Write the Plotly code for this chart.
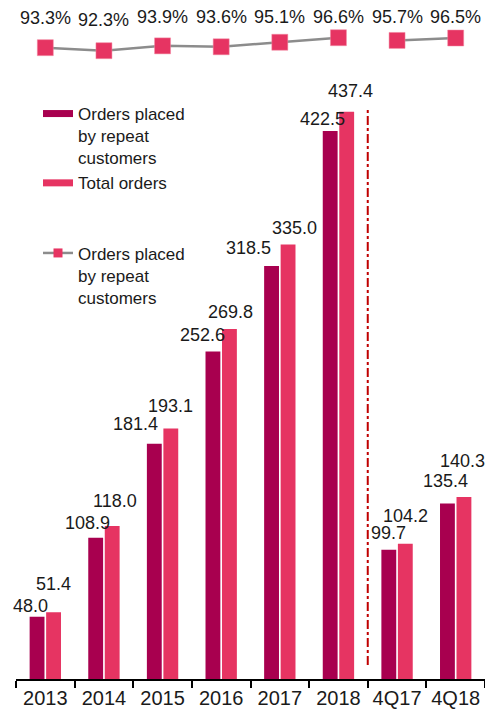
import plotly.graph_objects as go

categories = ["2013", "2014", "2015", "2016", "2017", "2018", "4Q17", "4Q18"]
repeat_orders = [48.0, 108.9, 181.4, 252.6, 318.5, 422.5, 99.7, 135.4]
total_orders = [51.4, 118.0, 193.1, 269.8, 335.0, 437.4, 104.2, 140.3]
repeat_share = [93.3, 92.3, 93.9, 93.6, 95.1, 96.6, 95.7, 96.5]

DARK = "#A8004F"
PINK = "#E63462"
FONT = "Arial, Liberation Sans, sans-serif"

# label placement tweaks (pixels) relative to each bar / label row
dark_dx = [-6.5, -8, -19, -10.5, -23, -8, 0, -2]
dark_dy = [11, 15, 20, 16, 18, 12, 17, 22]
pink_dx = [0, 3, 0, 1, 6, 4, 0, -1]
pink_dy = [28, 25, 23, 17, 17, 21, 28, 36]
pct_dy = [-1, -3, -0.5, -0.5, 0, 0, 0, 0]

PLOT_H = 671

fig = go.Figure()

fig.add_trace(go.Bar(x=categories, y=repeat_orders, marker=dict(color=DARK, line=dict(width=0)),
                     showlegend=False, name="Orders placed by repeat customers"))
fig.add_trace(go.Bar(x=categories, y=total_orders, marker=dict(color=PINK, line=dict(width=0)),
                     showlegend=False, name="Total orders"))

line_style = dict(color="#8C8C8C", width=2.5)

# legend entries
fig.add_trace(go.Scatter(x=[categories[0]], y=[None], mode="lines", line=dict(color=DARK, width=7),
                         name="Orders placed<br>by repeat<br>customers", legendgroup="a"))
fig.add_trace(go.Scatter(x=[categories[0]], y=[None], mode="lines", line=dict(color=PINK, width=7),
                         name="Total orders", legendgroup="a"))
fig.add_trace(go.Scatter(x=[categories[0]], y=[None], mode="lines+markers", line=line_style,
                         marker=dict(symbol="square", size=9, color=PINK),
                         name="Orders placed<br>by repeat<br>customers", legendgroup="b"))

n_annual = 6
marker_style = dict(symbol="square", size=16, color=PINK, line=dict(color="#F28AA3", width=0.5))
fig.add_trace(go.Scatter(x=categories[:n_annual], y=repeat_share[:n_annual], yaxis="y2",
                         mode="lines+markers", line=line_style, marker=marker_style,
                         showlegend=False, legendgroup="b"))
fig.add_trace(go.Scatter(x=categories[n_annual:], y=repeat_share[n_annual:], yaxis="y2",
                         mode="lines+markers", line=line_style, marker=marker_style,
                         showlegend=False, legendgroup="b"))

annotations = []
for i, c in enumerate(categories):
    annotations.append(dict(x=i, y=repeat_orders[i], xref="x", yref="y", text=f"{repeat_orders[i]:.1f}",
                            showarrow=False, xshift=-8.3 + dark_dx[i], yshift=dark_dy[i],
                            yanchor="middle", xanchor="center",
                            font=dict(family=FONT, size=18, color="#1a1a1a")))
    annotations.append(dict(x=i, y=total_orders[i], xref="x", yref="y", text=f"{total_orders[i]:.1f}",
                            showarrow=False, xshift=8.3 + pink_dx[i], yshift=pink_dy[i],
                            yanchor="middle", xanchor="center",
                            font=dict(family=FONT, size=18, color="#1a1a1a")))
    annotations.append(dict(x=i, y=1 - 8.5 / PLOT_H, xref="x", yref="paper", text=f"{repeat_share[i]:.1f}%",
                            showarrow=False, yanchor="middle", xanchor="center", yshift=pct_dy[i],
                            font=dict(family=FONT, size=18, color="#1a1a1a")))

fig.update_layout(
    width=485, height=705,
    margin=dict(l=8, r=8, t=0, b=34),
    paper_bgcolor="white", plot_bgcolor="white",
    barmode="group", bargap=0.437, bargroupgap=0.1,
    font=dict(family=FONT, color="#1a1a1a"),
    xaxis=dict(type="category", categoryorder="array", categoryarray=categories,
               range=[-0.5, len(categories) - 0.5], showline=True, linecolor="black", linewidth=1.5,
               ticks="outside", ticklen=7, tickwidth=1.5, tickcolor="black", tickangle=0,
               automargin=False,
               tickson="boundaries", showgrid=False, tickfont=dict(size=20, family=FONT, color="#1a1a1a")),
    yaxis=dict(range=[0, PLOT_H / 1.297], visible=False, showgrid=False),
    yaxis2=dict(range=[-115.75, 106.44], overlaying="y", visible=False, showgrid=False),
    legend=dict(x=22 / 469, y=1 - 88 / PLOT_H, xanchor="left", yanchor="top",
                font=dict(family=FONT, size=17, color="#1a1a1a"),
                traceorder="grouped", tracegroupgap=45, valign="top",
                bgcolor="rgba(0,0,0,0)"),
    annotations=annotations,
    shapes=[dict(type="line", xref="x", yref="y", x0=5.5, x1=5.5, y0=10.8, y1=439.5,
                 line=dict(color="#C00000", width=2, dash="dashdot"))],
)

fig.write_html("out.html")
